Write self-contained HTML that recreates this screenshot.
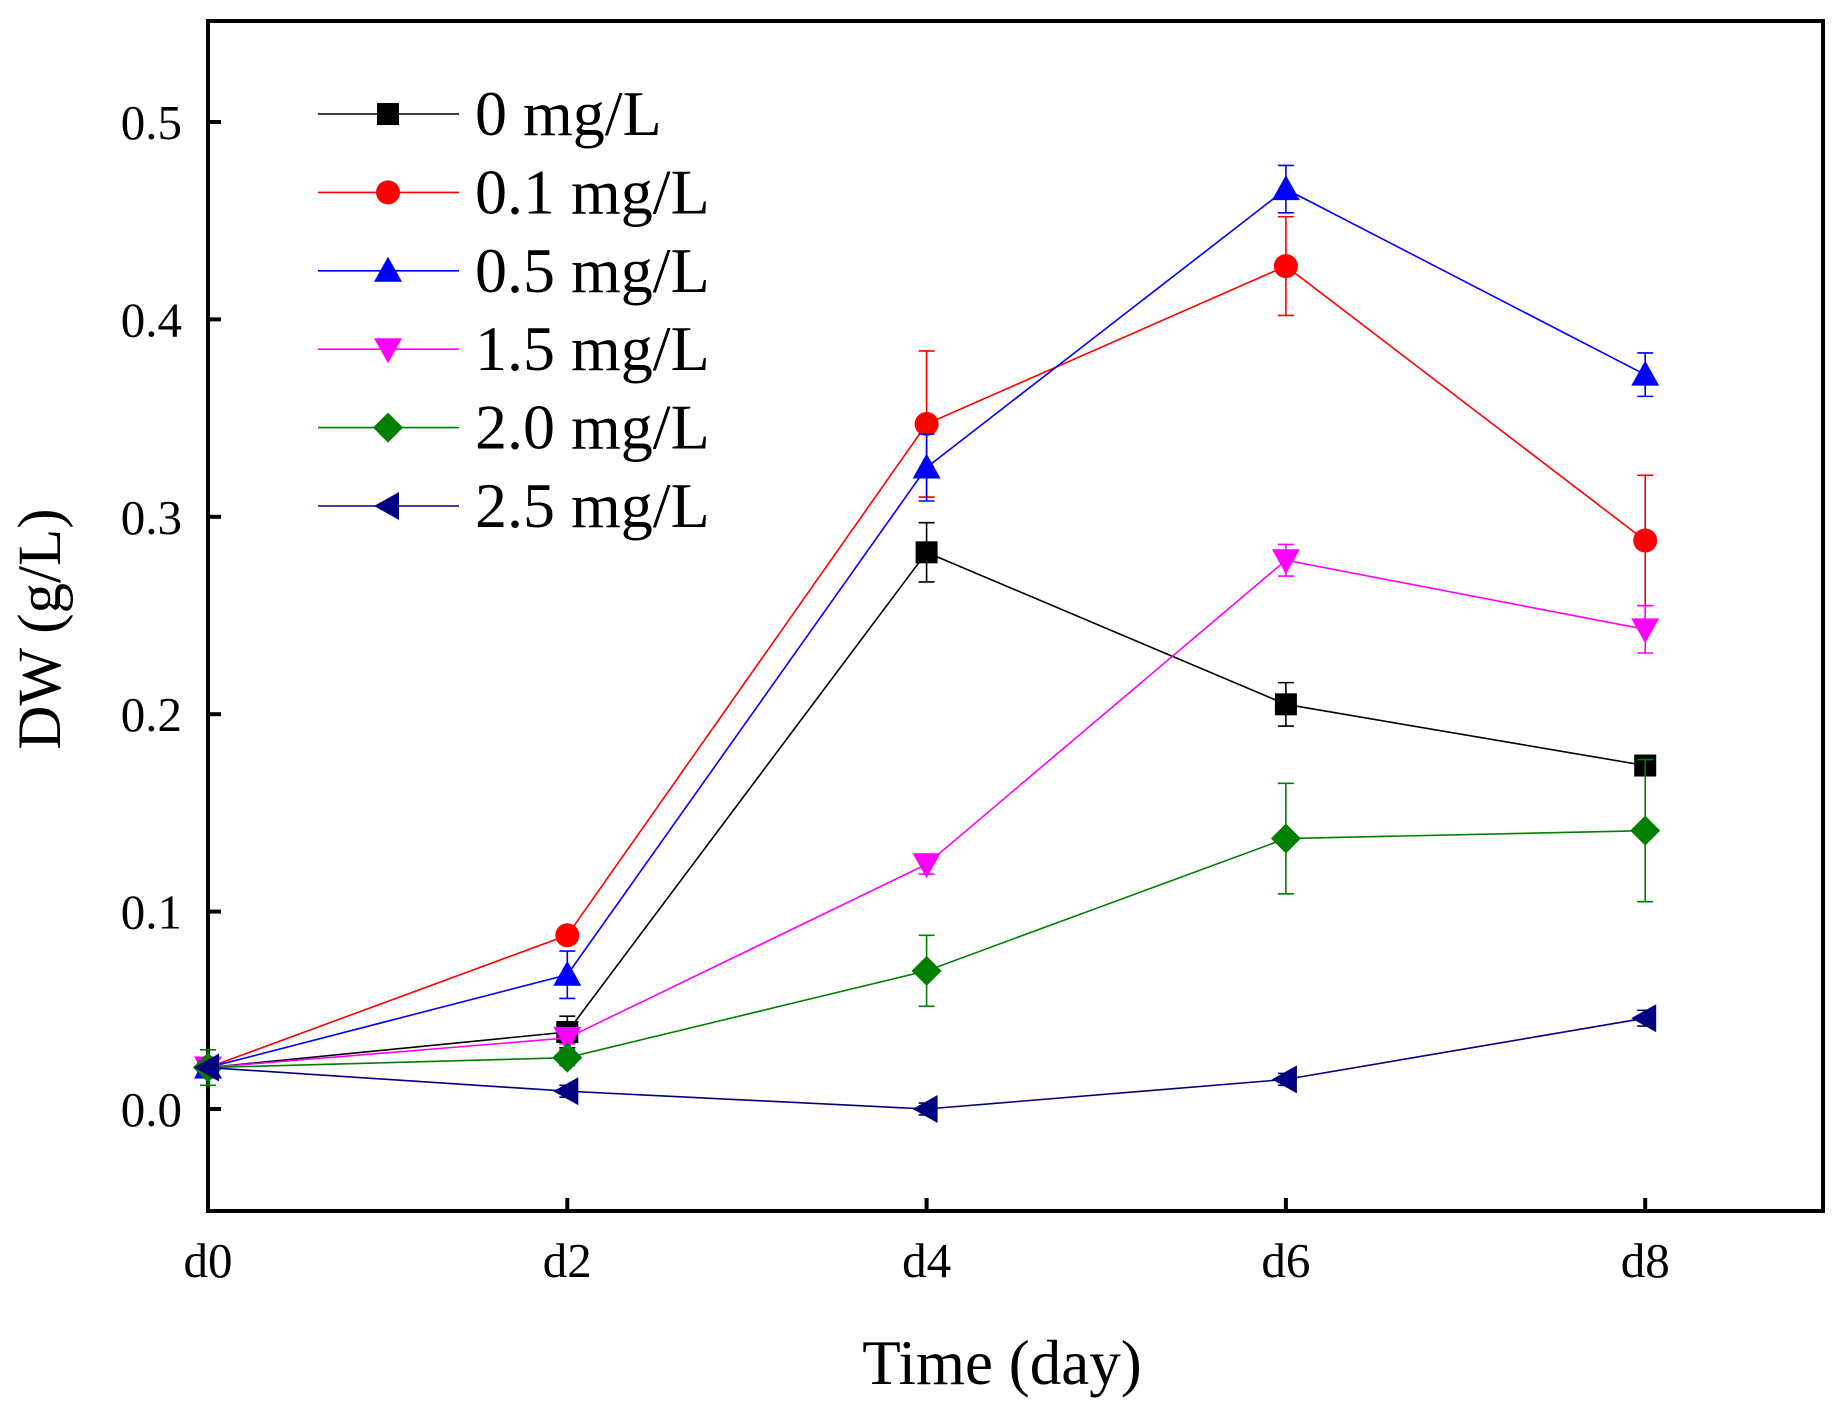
<!DOCTYPE html>
<html><head><meta charset="utf-8"><style>body{margin:0;background:#fff}svg{display:block}</style></head>
<body>
<svg id="s" width="1845" height="1410" xmlns="http://www.w3.org/2000/svg" font-family="Liberation Serif, serif"></svg>
<script>
const s=document.getElementById('s');let h='';
const X=i=>208+i*359.3, Y=v=>1109-v*1974;
h+='<rect x="208" y="21" width="1615" height="1190" fill="none" stroke="#000" stroke-width="4"/>';
for(let i=0;i<5;i++){h+=`<line x1="${X(i)}" y1="1211" x2="${X(i)}" y2="1198" stroke="#000" stroke-width="4"/><text x="${X(i)}" y="1277" font-size="49" text-anchor="middle">d${2*i}</text>`;}
for(let k=0;k<=5;k++){const y=Y(k/10);h+=`<line x1="208" y1="${y}" x2="221" y2="${y}" stroke="#000" stroke-width="4"/><text x="182" y="${y+17}" font-size="49" text-anchor="end">${(k/10).toFixed(1)}</text>`;}
h+='<text x="1002" y="1384" font-size="63" text-anchor="middle">Time (day)</text>';
h+='<text transform="translate(60,629) rotate(-90)" font-size="61" text-anchor="middle">DW (g/L)</text>';
const S=[
['#000','sq',[.021,.039,.282,.205,.174],[0,.008,.015,.011,.004],'0 mg/L'],
['#ff0000','ci',[.021,.088,.347,.427,.288],[0,.003,.037,.025,.033],'0.1 mg/L'],
['#0000ff','up',[.021,.068,.325,.466,.372],[0,.012,.017,.012,.011],'0.5 mg/L'],
['#ff00ff','dn',[.021,.036,.124,.278,.243],[0,.003,.005,.008,.012],'1.5 mg/L'],
['#008000','di',[.021,.026,.070,.137,.141],[.009,.004,.018,.028,.036],'2.0 mg/L'],
['#000080','le',[.021,.009,.000,.015,.046],[0,.003,.003,.003,.004],'2.5 mg/L']];
function mk(t,x,y,c){const r=11;
 if(t=='sq')return `<rect x="${x-r}" y="${y-r}" width="${2*r}" height="${2*r}" fill="${c}"/>`;
 if(t=='ci')return `<circle cx="${x}" cy="${y}" r="${r+1}" fill="${c}"/>`;
 if(t=='up')return `<polygon points="${x},${y-r-3} ${x+r+3},${y+r} ${x-r-3},${y+r}" fill="${c}"/>`;
 if(t=='dn')return `<polygon points="${x},${y+r+3} ${x+r+3},${y-r} ${x-r-3},${y-r}" fill="${c}"/>`;
 if(t=='di')return `<polygon points="${x},${y-r-4} ${x+r+4},${y} ${x},${y+r+4} ${x-r-4},${y}" fill="${c}"/>`;
 return `<polygon points="${x-r-3},${y} ${x+r},${y-r-3} ${x+r},${y+r+3}" fill="${c}"/>`;}
S.forEach((d,j)=>{const [c,t,v,e,l]=d;
 h+=`<polyline fill="none" stroke="${c}" stroke-width="1.6" points="${v.map((a,i)=>X(i)+','+Y(a)).join(' ')}"/>`;
 v.forEach((a,i)=>{if(e[i]>0){const x=X(i),y1=Y(a+e[i]),y2=Y(a-e[i]);h+=`<path d="M${x} ${y1}V${y2}M${x-8} ${y1}H${x+8}M${x-8} ${y2}H${x+8}" stroke="${c}" stroke-width="1.6" fill="none"/>`;}
  h+=mk(t,X(i),Y(a),c);});
 const ly=114+j*78.4;
 h+=`<line x1="318" y1="${ly}" x2="459" y2="${ly}" stroke="${c}" stroke-width="1.6"/>`+mk(t,388,ly,c)+`<text x="475" y="${ly+21}" font-size="64">${l}</text>`;
});
s.innerHTML=h;
</script>
</body></html>
